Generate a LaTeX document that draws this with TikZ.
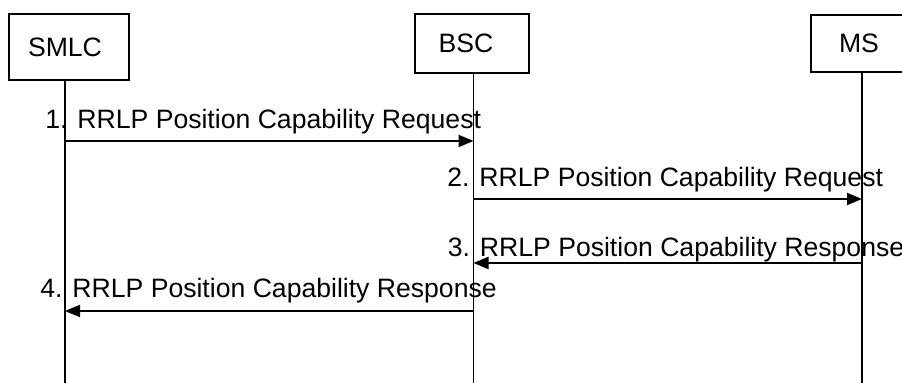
\documentclass[tikz,border=0pt]{standalone}
\usepackage{fontspec}
\setmainfont{Liberation Sans}
\usetikzlibrary{arrows.meta}

\begin{document}
\begin{tikzpicture}[x=.5pt,y=-.5pt,
  every node/.style={font=\fontsize{13.3}{16}\selectfont},
  entity/.style={draw,line width=1pt,inner sep=0pt},
  life/.style={line width=.75pt},
  msg/.style={line width=1pt,-{Triangle[length=7.5pt,width=6pt]}},
  lbl/.style={inner sep=0pt,anchor=base west}]
\useasboundingbox (0,0) rectangle (902,383);
% entities
\node[entity,minimum width=60pt,minimum height=33pt] (smlc) at (69,47) {\hspace*{-4pt}SMLC};
\node[entity,minimum width=57pt,minimum height=29.5pt] (bsc) at (472,43.5) {\hspace*{-6pt}BSC};
\node[entity,minimum width=57pt,minimum height=28.5pt] (ms) at (868,43.5) {\hspace*{-9pt}MS};
\coordinate (smlcend) at (65,383);
\coordinate (bscend) at (473.5,383);
\coordinate (msend) at (862,383);
\draw[life] (smlcend |- smlc.south)--(smlcend);
\draw[life] (bscend |- bsc.south)--(bscend);
\draw[life] (msend |- ms.south)--(msend);
% messages
\draw[msg] (smlcend |- 0,141)--(bscend |- 0,141);
\node[lbl] (m1) at (45,129) {1. RRLP Position Capability Request};
\draw[msg] (bscend |- 0,199)--(msend |- 0,199);
\node[lbl] (m2) at (447,187) {2. RRLP Position Capability Request};
\draw[msg] (msend |- 0,263)--(bscend |- 0,263);
\node[lbl] (m3) at (447.5,257) {3. RRLP Position Capability Response};
\draw[msg] (bscend |- 0,311)--(smlcend |- 0,311);
\node[lbl] (m4) at (40,298) {4. RRLP Position Capability Response};
\end{tikzpicture}
\end{document}
